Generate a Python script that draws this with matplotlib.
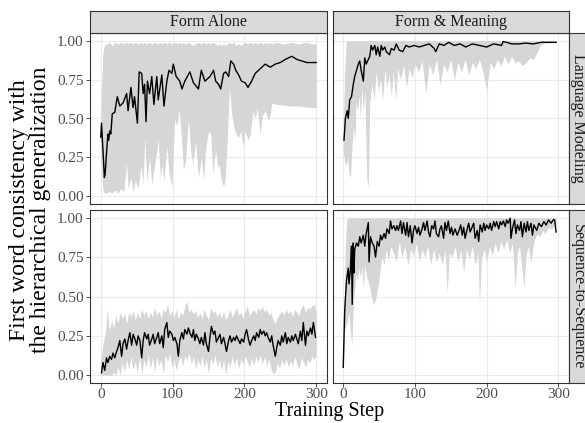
import numpy as np
import matplotlib
matplotlib.use("Agg")
import matplotlib.pyplot as plt

plt.rcParams['font.family'] = ['Liberation Serif', 'DejaVu Serif']

# ---- data (step, mean, ribbon bounds) ----

# Form Alone / Language Modeling
fa_lm_step = [0, 1, 3, 5, 6, 8, 10, 11, 12.5, 14, 16, 19.5, 23, 26.5, 31, 36, 38, 42, 45, 47, 51,
              53.5, 57, 59, 61, 63, 65, 68, 71, 74, 78, 80, 85, 88, 92, 95, 99, 101, 105, 110,
              113, 117, 124, 129, 136, 140, 145, 152, 157, 160, 164, 167, 171, 174, 178, 181,
              185, 188, 192, 196, 201, 205, 210, 215, 222, 229, 236, 243, 250, 257, 266, 273,
              280, 287, 294, 300]
fa_lm_mean = [0.38, 0.47, 0.30, 0.12, 0.14, 0.28, 0.40, 0.36, 0.42, 0.40, 0.53, 0.54, 0.64, 0.58,
              0.60, 0.66, 0.55, 0.70, 0.57, 0.64, 0.47, 0.80, 0.79, 0.66, 0.72, 0.48, 0.74, 0.66,
              0.77, 0.59, 0.77, 0.62, 0.78, 0.58, 0.74, 0.81, 0.79, 0.85, 0.77, 0.74, 0.69, 0.74,
              0.80, 0.73, 0.69, 0.81, 0.74, 0.77, 0.81, 0.74, 0.72, 0.69, 0.79, 0.80, 0.77, 0.87,
              0.85, 0.81, 0.78, 0.74, 0.73, 0.70, 0.74, 0.79, 0.82, 0.85, 0.83, 0.85, 0.86, 0.88,
              0.90, 0.88, 0.87, 0.86, 0.86, 0.86]
fa_lm_band_step = [0, 1, 3, 5, 8, 12, 16, 20, 24, 28, 32, 36, 38, 42, 45, 48, 52, 56, 59, 61, 64,
                   68, 71, 75, 80, 83, 85, 88, 92, 95, 99, 101, 103, 106, 109, 112, 115, 118, 122,
                   125, 128, 132, 136, 140, 143, 146, 150, 153, 156, 160, 163, 165, 168, 171, 173,
                   176, 179, 182, 185, 188, 192, 195, 198, 201, 205, 208, 212, 215, 218, 222, 225,
                   229, 233, 236, 238, 245, 255, 265, 275, 285, 295, 300]
fa_lm_low = [0.30, 0.15, 0.04, 0.02, 0.02, 0.03, 0.02, 0.04, 0.02, 0.05, 0.03, 0.21, 0.05, 0.12,
             0.03, 0.10, 0.05, 0.20, 0.08, 0.38, 0.10, 0.25, 0.08, 0.20, 0.36, 0.12, 0.20, 0.10,
             0.32, 0.15, 0.06, 0.30, 0.50, 0.45, 0.56, 0.40, 0.17, 0.22, 0.50, 0.30, 0.21, 0.35,
             0.12, 0.25, 0.10, 0.30, 0.42, 0.40, 0.15, 0.30, 0.18, 0.20, 0.10, 0.06, 0.10, 0.35,
             0.70, 0.55, 0.45, 0.40, 0.38, 0.42, 0.32, 0.42, 0.36, 0.40, 0.55, 0.50, 0.57, 0.40,
             0.52, 0.55, 0.49, 0.52, 0.60, 0.59, 0.585, 0.58, 0.58, 0.575, 0.57, 0.57]
fa_lm_high = [0.48, 0.70, 0.92, 0.97, 0.98, 0.99, 0.97, 0.99, 0.98, 0.99, 0.98, 0.99, 0.98, 0.99,
              0.98, 0.99, 0.98, 0.99, 0.98, 0.99, 0.98, 0.99, 0.98, 0.99, 0.98, 0.99, 0.98, 0.99,
              0.98, 0.99, 0.98, 0.99, 0.99, 0.98, 0.99, 0.98, 0.99, 0.98, 0.99, 0.98, 0.97, 0.98,
              0.99, 0.98, 0.99, 0.98, 0.99, 0.98, 0.99, 0.98, 0.97, 0.98, 0.97, 0.98, 0.97, 0.98,
              0.99, 0.98, 0.99, 0.97, 0.98, 0.97, 0.98, 0.99, 0.98, 0.99, 0.98, 0.99, 0.98, 0.99,
              0.98, 0.99, 0.98, 0.99, 0.98, 0.99, 0.98, 0.99, 0.98, 0.99, 0.98, 0.98]

# Form & Meaning / Language Modeling
fm_lm_step = [1, 3, 5.5, 7, 9, 11.5, 14, 16, 18.5, 21, 23, 25, 28, 30, 32, 35, 37, 39, 41, 44,
              46, 48, 51, 53, 55, 58, 60, 64.5, 67, 71, 74, 78, 83, 87.5, 92, 99, 106, 113, 120,
              127, 129, 134, 140.5, 147, 155, 163, 171, 180, 190, 200, 210, 221, 223, 228, 235,
              245, 255, 265, 276, 285, 297]
fm_lm_mean = [0.36, 0.50, 0.55, 0.50, 0.62, 0.64, 0.72, 0.77, 0.81, 0.85, 0.87, 0.81, 0.74, 0.89,
              0.85, 0.88, 0.90, 0.97, 0.94, 0.97, 0.91, 0.96, 0.90, 0.97, 0.94, 0.96, 0.93, 0.91,
              0.95, 0.94, 0.98, 0.94, 0.93, 0.97, 0.96, 0.97, 0.96, 0.97, 0.98, 0.95, 0.93, 0.98,
              0.97, 0.99, 0.97, 0.98, 0.96, 0.98, 0.97, 0.96, 0.98, 0.97, 0.995, 0.99, 0.98, 0.98,
              0.985, 0.98, 0.99, 0.99, 0.99]
fm_lm_band_step = [0, 2, 4, 6, 8, 10, 12, 14, 16, 18, 20, 22, 24, 26, 28, 30, 33, 35, 37, 40, 43,
                   46, 49, 52, 55, 58, 61, 64, 67, 70, 73, 76, 80, 84, 88, 92, 96, 100, 105, 110,
                   115, 120, 125, 130, 135, 140, 145, 150, 155, 160, 165, 170, 175, 180, 185, 190,
                   195, 200, 205, 210, 215, 220, 225, 230, 235, 240, 245, 250, 255, 260, 265, 270,
                   275, 280, 285, 290, 295, 297]
fm_lm_low = [0.28, 0.22, 0.20, 0.25, 0.15, 0.12, 0.30, 0.45, 0.35, 0.60, 0.55, 0.65, 0.50, 0.70,
             0.55, 0.68, 0.10, 0.06, 0.60, 0.72, 0.62, 0.80, 0.68, 0.75, 0.62, 0.82, 0.70, 0.78,
             0.65, 0.80, 0.62, 0.82, 0.75, 0.85, 0.70, 0.82, 0.76, 0.85, 0.80, 0.87, 0.66, 0.85,
             0.78, 0.88, 0.72, 0.85, 0.80, 0.88, 0.75, 0.86, 0.80, 0.88, 0.78, 0.86, 0.82, 0.88,
             0.80, 0.68, 0.86, 0.82, 0.88, 0.84, 0.90, 0.85, 0.90, 0.86, 0.87, 0.84, 0.86, 0.89,
             0.88, 0.92, 0.97, 0.985, 0.985, 0.99, 0.99, 0.99]
fm_lm_high = [0.45, 0.80, 0.99, 1.0, 1.0, 1.0, 1.0, 1.0, 1.0, 1.0, 1.0, 1.0, 1.0, 1.0, 1.0, 1.0,
              1.0, 1.0, 1.0, 1.0, 1.0, 1.0, 1.0, 1.0, 1.0, 1.0, 1.0, 1.0, 1.0, 1.0, 1.0, 1.0,
              1.0, 1.0, 1.0, 1.0, 1.0, 1.0, 1.0, 1.0, 1.0, 1.0, 1.0, 1.0, 1.0, 1.0, 1.0, 1.0,
              1.0, 1.0, 1.0, 1.0, 1.0, 1.0, 1.0, 1.0, 1.0, 1.0, 1.0, 1.0, 1.0, 1.0, 1.0, 1.0,
              1.0, 1.0, 1.0, 1.0, 1.0, 1.0, 1.0, 1.0, 1.0, 1.0, 1.0, 1.0, 1.0, 1.0]

# Form Alone / Sequence-to-Sequence
fa_s2s_step = [1, 3, 5.5, 8, 10, 12.5, 15, 17, 19.5, 22, 24, 26.5, 29, 31, 33.5, 36, 38, 40.5,
               43, 45, 47.5, 50, 52, 54.5, 57, 59, 61, 64, 66, 68, 71, 73, 75, 78, 80, 82, 85,
               87, 89, 92, 94, 96, 99, 101, 103, 106, 108, 110, 113, 115, 117, 120, 122, 124,
               127, 129, 131, 133, 136, 138, 140, 143, 145, 147, 150, 152, 154, 157, 159, 161,
               164, 166, 168, 171, 173, 175, 178, 180, 182, 185, 187, 189, 192, 194, 196, 199,
               201, 203, 206, 208, 210, 213, 215, 217, 220, 222, 224, 227, 229, 231, 233, 236,
               238, 240, 243, 245, 247, 250, 252, 254, 257, 259, 261, 264, 266, 268, 271, 273,
               275, 278, 280, 282, 285, 287, 289, 292, 294, 296, 299]
fa_s2s_mean = [0.015, 0.08, 0.03, 0.11, 0.08, 0.12, 0.10, 0.14, 0.11, 0.15, 0.175, 0.22, 0.12,
               0.20, 0.23, 0.165, 0.22, 0.27, 0.19, 0.26, 0.23, 0.19, 0.25, 0.22, 0.11, 0.22,
               0.27, 0.23, 0.26, 0.19, 0.23, 0.26, 0.20, 0.24, 0.27, 0.20, 0.25, 0.175, 0.29,
               0.335, 0.24, 0.28, 0.26, 0.22, 0.24, 0.20, 0.12, 0.22, 0.27, 0.23, 0.29, 0.26,
               0.30, 0.27, 0.24, 0.29, 0.22, 0.26, 0.23, 0.20, 0.24, 0.19, 0.27, 0.20, 0.15,
               0.24, 0.31, 0.26, 0.28, 0.21, 0.24, 0.26, 0.20, 0.24, 0.20, 0.15, 0.22, 0.25,
               0.21, 0.24, 0.22, 0.25, 0.22, 0.20, 0.23, 0.21, 0.26, 0.29, 0.22, 0.19, 0.22,
               0.25, 0.22, 0.27, 0.24, 0.29, 0.26, 0.28, 0.25, 0.27, 0.24, 0.21, 0.25, 0.19,
               0.12, 0.175, 0.22, 0.19, 0.25, 0.21, 0.27, 0.20, 0.24, 0.21, 0.25, 0.22, 0.26,
               0.23, 0.20, 0.28, 0.22, 0.335, 0.19, 0.28, 0.25, 0.30, 0.26, 0.335, 0.24]
fa_s2s_band_step = list(range(0, 301, 3))
fa_s2s_high = [0.08, 0.20, 0.25, 0.42, 0.28, 0.35, 0.30, 0.38, 0.33, 0.40, 0.36, 0.39, 0.33,
               0.40, 0.37, 0.41, 0.35, 0.40, 0.36, 0.42, 0.38, 0.41, 0.36, 0.40, 0.37, 0.43,
               0.38, 0.41, 0.36, 0.42, 0.40, 0.45, 0.38, 0.41, 0.37, 0.42, 0.36, 0.40, 0.38,
               0.44, 0.47, 0.40, 0.42, 0.39, 0.41, 0.37, 0.40, 0.36, 0.42, 0.38, 0.35, 0.43,
               0.40, 0.41, 0.37, 0.40, 0.36, 0.41, 0.35, 0.38, 0.42, 0.37, 0.40, 0.43, 0.38,
               0.40, 0.36, 0.41, 0.44, 0.38, 0.40, 0.42, 0.39, 0.43, 0.41, 0.44, 0.40, 0.42,
               0.38, 0.40, 0.35, 0.33, 0.37, 0.39, 0.41, 0.38, 0.42, 0.39, 0.41, 0.37, 0.42,
               0.40, 0.38, 0.43, 0.45, 0.40, 0.43, 0.42, 0.44, 0.45, 0.40]
fa_s2s_low = [0.0, 0.0, 0.0, 0.0, 0.0, 0.0, 0.02, 0.0, 0.05, 0.0, 0.08, 0.02, 0.10, 0.04, 0.12,
              0.03, 0.09, 0.01, 0.12, 0.0, 0.10, 0.05, 0.13, 0.04, 0.11, 0.02, 0.12, 0.06, 0.10,
              0.01, 0.13, 0.08, 0.14, 0.05, 0.10, 0.03, 0.09, 0.12, 0.06, 0.12, 0.10, 0.14, 0.07,
              0.12, 0.04, 0.10, 0.06, 0.12, 0.05, 0.10, 0.01, 0.11, 0.07, 0.13, 0.05, 0.10, 0.03,
              0.10, 0.0, 0.09, 0.05, 0.12, 0.06, 0.11, 0.04, 0.10, 0.07, 0.12, 0.09, 0.05, 0.11,
              0.06, 0.12, 0.08, 0.13, 0.07, 0.12, 0.06, 0.10, 0.04, 0.01, 0.02, 0.08, 0.04, 0.10,
              0.06, 0.11, 0.05, 0.09, 0.06, 0.12, 0.07, 0.04, 0.11, 0.09, 0.05, 0.10, 0.08, 0.12,
              0.10, 0.13]

# Form & Meaning / Sequence-to-Sequence
fm_s2s_step = [0, 2, 4.5, 7, 8, 10, 11.5, 12.5, 14, 15, 16, 18.5, 21, 23, 25, 28, 30, 32, 35, 36,
               38, 40.5, 43, 45, 47.5, 50, 52, 54, 57, 59, 61, 64, 66, 68, 70.5, 73, 75, 77, 80,
               82, 84, 87, 89, 91, 93.5, 96, 98, 100, 103, 105, 107, 110, 112, 114, 117, 119,
               121, 123.5, 126, 128, 130, 133, 135, 137, 140, 142, 144, 146.5, 149, 151, 153,
               156, 159, 160, 164, 166, 168, 170, 173, 175, 177, 180, 182, 184, 187, 189, 191,
               194, 196, 198, 200, 203, 205, 207, 210, 212, 214, 217, 219, 221, 223.5, 226, 228,
               230, 233, 234, 236, 239, 241, 243, 246, 248, 250, 252.5, 255, 257, 259, 262, 264,
               266, 270, 273, 276.5, 280, 283, 286.5, 290, 293.5, 295, 297]
fm_s2s_mean = [0.05, 0.41, 0.60, 0.68, 0.58, 0.67, 0.82, 0.45, 0.84, 0.65, 0.80, 0.84, 0.82, 0.88,
               0.84, 0.89, 0.82, 0.90, 0.97, 0.72, 0.88, 0.84, 0.82, 0.75, 0.85, 0.82, 0.89, 0.86,
               0.90, 0.87, 0.93, 0.90, 0.98, 0.93, 0.95, 0.92, 0.95, 0.92, 0.98, 0.90, 0.97, 0.89,
               0.97, 0.88, 0.95, 0.84, 0.92, 0.95, 0.90, 0.94, 0.89, 0.93, 0.97, 0.92, 0.98, 0.91,
               0.88, 0.95, 0.93, 0.98, 0.90, 0.88, 0.93, 0.95, 0.87, 0.97, 0.92, 0.98, 0.90, 0.94,
               0.89, 0.93, 0.89, 0.90, 0.955, 0.89, 0.94, 0.87, 0.93, 0.966, 0.91, 0.944, 0.966,
               0.87, 0.92, 0.85, 0.955, 0.91, 0.966, 0.92, 0.955, 0.93, 0.966, 0.92, 0.976, 0.944,
               0.976, 0.93, 0.976, 0.955, 0.98, 0.944, 0.987, 0.966, 0.998, 0.87, 0.93, 0.987,
               0.90, 0.955, 0.92, 0.976, 0.88, 0.966, 0.91, 0.976, 0.92, 0.966, 0.89, 0.955, 0.92,
               0.966, 0.944, 0.976, 0.955, 0.987, 0.966, 0.99, 0.987, 0.91]
fm_s2s_band_step = [0, 2, 3, 5, 8, 10, 12, 14, 16, 18, 20, 22, 24, 26, 28, 30, 33, 36, 39, 42, 45,
                    48, 51, 54, 57, 60, 63, 66, 70, 74, 78, 82, 86, 90, 94, 98, 102, 106, 110, 114,
                    118, 122, 126, 130, 134, 138, 142, 145, 148, 152, 156, 160, 164, 168, 172, 176,
                    180, 184, 188, 190, 193, 197, 200, 204, 208, 212, 216, 220, 224, 228, 232, 236,
                    240, 243, 246, 249, 252, 255, 258, 262, 266, 270, 274, 278, 282, 286, 290, 295,
                    297]
fm_s2s_low = [0.03, 0.30, 0.30, 0.33, 0.40, 0.28, 0.18, 0.45, 0.55, 0.65, 0.60, 0.68, 0.62, 0.70,
              0.55, 0.70, 0.62, 0.58, 0.50, 0.45, 0.48, 0.55, 0.65, 0.75, 0.70, 0.80, 0.72, 0.82,
              0.78, 0.72, 0.85, 0.75, 0.82, 0.70, 0.80, 0.76, 0.84, 0.72, 0.80, 0.75, 0.82, 0.70,
              0.80, 0.72, 0.78, 0.70, 0.80, 0.52, 0.78, 0.75, 0.82, 0.72, 0.80, 0.66, 0.80, 0.74,
              0.82, 0.70, 0.78, 0.45, 0.75, 0.80, 0.72, 0.82, 0.76, 0.84, 0.78, 0.85, 0.80, 0.86,
              0.78, 0.84, 0.55, 0.78, 0.82, 0.70, 0.55, 0.76, 0.82, 0.72, 0.85, 0.90, 0.88, 0.92,
              0.90, 0.94, 0.93, 0.95, 0.94]
fm_s2s_high = [0.10, 0.60, 0.85, 0.99, 1.0, 1.0, 1.0, 1.0, 1.0, 1.0, 1.0, 1.0, 1.0, 1.0, 1.0, 1.0,
               1.0, 1.0, 1.0, 1.0, 1.0, 1.0, 1.0, 1.0, 1.0, 1.0, 1.0, 1.0, 1.0, 1.0, 1.0, 1.0,
               1.0, 1.0, 1.0, 1.0, 1.0, 1.0, 1.0, 1.0, 1.0, 1.0, 1.0, 1.0, 1.0, 1.0, 1.0, 1.0,
               1.0, 1.0, 1.0, 1.0, 1.0, 1.0, 1.0, 1.0, 1.0, 1.0, 1.0, 1.0, 1.0, 1.0, 1.0, 1.0,
               1.0, 1.0, 1.0, 1.0, 1.0, 1.0, 1.0, 1.0, 1.0, 1.0, 1.0, 1.0, 1.0, 1.0, 1.0, 1.0,
               1.0, 1.0, 1.0, 1.0, 1.0, 1.0, 1.0, 1.0, 1.0]

col_labels = ["Form Alone", "Form & Meaning"]
row_labels = ["Language Modeling", "Sequence-to-Sequence"]
x_ticks = [0, 100, 200, 300]
y_ticks = [0.0, 0.25, 0.5, 0.75, 1.0]
y_ticklabels = ["0.00", "0.25", "0.50", "0.75", "1.00"]

panels = {
    (0, 0): (fa_lm_step, fa_lm_mean, fa_lm_band_step, fa_lm_low, fa_lm_high),
    (0, 1): (fm_lm_step, fm_lm_mean, fm_lm_band_step, fm_lm_low, fm_lm_high),
    (1, 0): (fa_s2s_step, fa_s2s_mean, fa_s2s_band_step, fa_s2s_low, fa_s2s_high),
    (1, 1): (fm_s2s_step, fm_s2s_mean, fm_s2s_band_step, fm_s2s_low, fm_s2s_high),
}

# ---- layout (pixel boxes of the 585x423 reference) ----
W, H = 585, 423
fig = plt.figure(figsize=(W / 100, H / 100), dpi=100)

col_x = [(90, 327), (332.5, 569)]
row_y = [(33, 204), (210, 383)]

def box(x0, x1, y0, y1):
    return [x0 / W, 1 - y1 / H, (x1 - x0) / W, (y1 - y0) / H]

tick_col = '#4d4d4d'
for (r, c), (st, mn, bst, lo, hi) in panels.items():
    ax = fig.add_axes(box(*col_x[c], *row_y[r]))
    ax.fill_between(bst, lo, hi, color='#d6d6d6', lw=0, zorder=2)
    ax.plot(st, mn, color='black', lw=1.0, zorder=3)
    ax.set_xlim(-15, 315)
    ax.set_ylim(-0.05, 1.05)
    ax.set_xticks(x_ticks)
    ax.set_yticks(y_ticks)
    ax.grid(True, color='#ebebeb', lw=0.8, zorder=0)
    ax.set_axisbelow(True)
    for s in ax.spines.values():
        s.set_color('#333333')
        s.set_linewidth(0.8)
    ax.tick_params(length=3, width=0.6, color='#333333', labelcolor=tick_col,
                   labelsize=11, pad=1.5)
    if c == 0:
        ax.set_yticklabels(y_ticklabels)
    else:
        ax.tick_params(axis='y', length=0, labelleft=False)
    if r == 1:
        ax.set_xticklabels([str(t) for t in x_ticks])
        ax.tick_params(axis='x', pad=0.5)
    else:
        ax.tick_params(axis='x', length=0, labelbottom=False)

# facet strips
for c, lab in enumerate(col_labels):
    sax = fig.add_axes(box(*col_x[c], 11, 33))
    sax.set_facecolor('#d9d9d9')
    sax.set_xticks([]); sax.set_yticks([])
    for s in sax.spines.values():
        s.set_color('#333333'); s.set_linewidth(0.8)
    sax.text(0.5, 0.5, lab, ha='center', va='center', fontsize=11.5, color='#1a1a1a',
             transform=sax.transAxes)
for r, lab in enumerate(row_labels):
    sax = fig.add_axes(box(569, 586, *row_y[r]))
    sax.set_facecolor('#d9d9d9')
    sax.set_xticks([]); sax.set_yticks([])
    for s in sax.spines.values():
        s.set_color('#333333'); s.set_linewidth(0.8)
    sax.text(0.5, 0.5, lab, ha='center', va='center', fontsize=11.5, color='#1a1a1a',
             rotation=-90, transform=sax.transAxes)

fig.text(329.5 / W, 1 - 411 / H, "Training Step", ha='center', va='center', fontsize=14.5)
fig.text(30 / W, 1 - 210 / H, "First word consistency with\nthe hierarchical generalization",
         ha='center', va='center', rotation=90, fontsize=17, linespacing=1.0,
         multialignment='center')

fig.savefig('out.png', dpi=100)
